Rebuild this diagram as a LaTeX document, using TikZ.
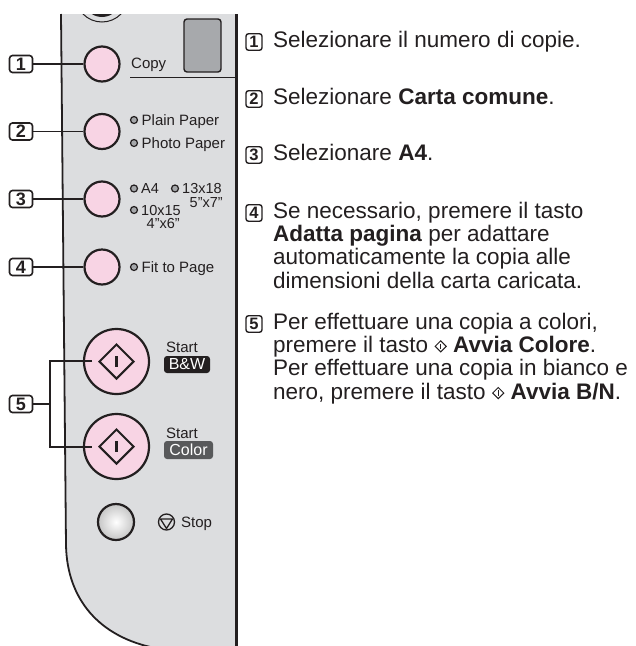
\documentclass[tikz,border=0pt]{standalone}
\usepackage{fontspec}
\setmainfont{Liberation Sans}
\usetikzlibrary{shapes.geometric}
\definecolor{panel}{HTML}{DCDDDF}
\definecolor{ink}{HTML}{231F20}
\definecolor{pinkb}{HTML}{F8D4E4}
\definecolor{disp}{HTML}{A7A9AC}
\definecolor{colorbox}{HTML}{58595B}
\definecolor{ledfill}{HTML}{A5A7AA}
\begin{document}
\begin{tikzpicture}[x=1pt,y=-1pt,
  btn/.style={circle,draw=ink,line width=2.2pt,fill=pinkb,minimum size=35pt,inner sep=0pt},
  bigbtn/.style={circle,draw=ink,line width=2.2pt,fill=pinkb,minimum size=65pt,inner sep=0pt},
  startsym/.style={diamond,draw=ink,line width=2pt,minimum size=35pt,inner sep=0pt},
  callout/.style={draw=ink,line width=1.6pt,rounded corners=3pt,fill=white,minimum width=23pt,minimum height=17pt,inner sep=0pt,font=\fontsize{18}{18}\selectfont\bfseries,text=ink},
  refbox/.style={draw=ink,line width=1.4pt,rounded corners=2.5pt,fill=white,minimum width=16pt,minimum height=16.5pt,inner sep=0pt,font=\fontsize{16.5}{16.5}\selectfont\bfseries,text=ink},
  lbl/.style={font=\fontsize{15}{15}\selectfont,inner sep=0pt,anchor=base west,text=ink},
  smalllbl/.style={font=\fontsize{14.5}{14.5}\selectfont,inner sep=0pt,anchor=base west,text=ink},
  led/.style={circle,draw=ink,line width=1.2pt,fill=ledfill,minimum size=7pt,inner sep=0pt},
  conn/.style={draw=ink,line width=1.7pt},
  body/.style={font=\fontsize{22.5}{23.3}\selectfont,inner sep=0pt,anchor=base west,text=ink},
  txtsym/.style={diamond,draw=ink,line width=1pt,minimum size=11.5pt,inner sep=0pt},
]
\useasboundingbox (0,0) rectangle (636,646);
% panel
\fill[panel] (61,14) -- (236,14) -- (236,650) -- (155,650) -- (155,648) .. controls (100,637) and (67,600) .. (66,545) -- cycle;
\begin{scope}
  \clip (0,14) rectangle (235,40);
  \draw[ink,line width=1pt] (102,-4.5) circle (26.5pt);
  \draw[ink,line width=3pt] (102,-2) circle (17.5pt);
\end{scope}
\draw[ink,line width=1.8pt] (61,14) -- (66,545) .. controls (67,600) and (100,637) .. (155,648);
\draw[ink,line width=3pt] (236,14) -- (236,650);

% buttons
\node[btn] (b1) at (102,64) {};
\node[btn] (b2) at (102,131.5) {};
\node[btn] (b3) at (102,199) {};
\node[btn] (b4) at (102,267) {};
\node[bigbtn] (bw) at (116.5,361.5) {};
\node[bigbtn] (col) at (116.5,446.5) {};
\node[startsym] (dbw) at (bw.center) {};
\node[startsym] (dcol) at (col.center) {};
\draw[ink,line width=2.6pt] ([yshift=5.5pt]dbw.center) -- ([yshift=-5.5pt]dbw.center);
\draw[ink,line width=2.6pt] ([yshift=5.5pt]dcol.center) -- ([yshift=-5.5pt]dcol.center);
\node[circle,draw=ink,line width=2.2pt,minimum size=36pt,inner sep=0pt,shading=radial,inner color=white,outer color=gray!45] (stop) at (116,522) {};

% panel labels
\node[lbl] (copy) at (131,68.5) {Copy};
\draw[ink,line width=0.9pt] (130,77) -- (234.5,77);
\node[draw=ink,line width=1.4pt,fill=disp,rounded corners=3pt,minimum width=37pt,minimum height=53pt,inner sep=0pt] (lcd) at (202.5,45.5) {};

\node[led] (l1) at (134,120) {};
\node[lbl] (plain) at (141.5,125) {Plain Paper};
\node[led] (l2) at (134,143) {};
\node[lbl] (photo) at (141.5,148) {Photo Paper};

\node[led] (l3) at (134,188.5) {};
\node[smalllbl] (a4) at (141,193.5) {A4};
\node[led] (l4) at (175,188.5) {};
\node[smalllbl] (t1318) at (182,193.5) {13x18};
\node[smalllbl] (t57) at (189.5,207) {5"x7"};
\node[led] (l5) at (134,210) {};
\node[smalllbl] (t1015) at (141,215) {10x15};
\node[smalllbl] (t46) at (146.5,228.5) {4"x6"};

\node[led] (l6) at (134,267) {};
\node[lbl] (fit) at (141.5,272) {Fit to Page};

\node[lbl] (st1) at (166,352) {Start};
\node[fill=ink,rounded corners=3pt,minimum width=46pt,minimum height=17pt,inner sep=0pt,text=white,font=\fontsize{16}{16}\selectfont] (bwl) at (187,364.5) {B\&W};
\node[lbl] (st2) at (166,438) {Start};
\node[fill=colorbox,rounded corners=3pt,minimum width=49pt,minimum height=18pt,inner sep=0pt,text=white,font=\fontsize{16}{16}\selectfont] (coll) at (188.5,450) {Color};

\node[circle,draw=ink,line width=1.3pt,minimum size=16pt,inner sep=0pt] (stsym) at (166.5,522) {};
\draw[ink,line width=1.3pt,line join=round] ([xshift=-6pt,yshift=3pt]stsym.center) -- ([xshift=6pt,yshift=3pt]stsym.center) -- ([yshift=-6.5pt]stsym.center) -- cycle;
\node[lbl] (stopl) at (181,527) {Stop};

% callouts
\node[callout] (c1) at (21,64) {1};
\node[callout] (c2) at (21,131.5) {2};
\node[callout] (c3) at (21,199) {3};
\node[callout] (c4) at (21,267) {4};
\node[callout] (c5) at (21,404) {5};
\draw[conn] (c1) -- (b1);
\draw[conn] (c2) -- (b2);
\draw[conn] (c3) -- (b3);
\draw[conn] (c4) -- (b4);
\coordinate (j5) at (50,404);
\coordinate (bwin) at (92,361);
\coordinate (colin) at (92,447);
\draw[conn] (c5) -- (j5);
\draw[conn] (bwin) -- (bwin -| j5) -- (colin -| j5) -- (colin);

% right column
\node[refbox] (r1) at (254,42) {1};
\node[body] (t1) at (273,47) {Selezionare il numero di copie.};
\node[refbox] (r2) at (254,99) {2};
\node[body] (t2) at (273,104) {Selezionare \textbf{Carta comune}.};
\node[refbox] (r3) at (254,155) {3};
\node[body] (t3) at (273,160) {Selezionare \textbf{A4}.};
\node[refbox] (r4) at (254,213) {4};
\node[body] (t4a) at (273,218) {Se necessario, premere il tasto};
\node[body] (t4b) at (273,241.3) {\textbf{Adatta pagina} per adattare};
\node[body] (t4c) at (273,264.6) {automaticamente la copia alle};
\node[body] (t4d) at (273,288) {dimensioni della carta caricata.};
\node[refbox] (r5) at (254,324) {5};
\node[body] (t5a) at (273,329) {Per effettuare una copia a colori,};
\node[body] (t5b) at (273,352.3) {premere il tasto};
\node[txtsym,anchor=west] (s1) at ([xshift=6pt,yshift=6pt]t5b.base east) {};
\draw[ink,line width=1.1pt] ([yshift=2.6pt]s1.center) -- ([yshift=-2.6pt]s1.center);
\coordinate (s1e) at (s1.east |- t5b.base);
\node[body] (t5c) at ([xshift=6pt]s1e) {\textbf{Avvia Colore}.};
\node[body] (t5d) at (273,375.6) {Per effettuare una copia in bianco e};
\node[body] (t5e) at (273,399) {nero, premere il tasto};
\node[txtsym,anchor=west] (s2) at ([xshift=6pt,yshift=6pt]t5e.base east) {};
\draw[ink,line width=1.1pt] ([yshift=2.6pt]s2.center) -- ([yshift=-2.6pt]s2.center);
\coordinate (s2e) at (s2.east |- t5e.base);
\node[body] (t5f) at ([xshift=6pt]s2e) {\textbf{Avvia B/N}.};
\end{tikzpicture}
\end{document}
